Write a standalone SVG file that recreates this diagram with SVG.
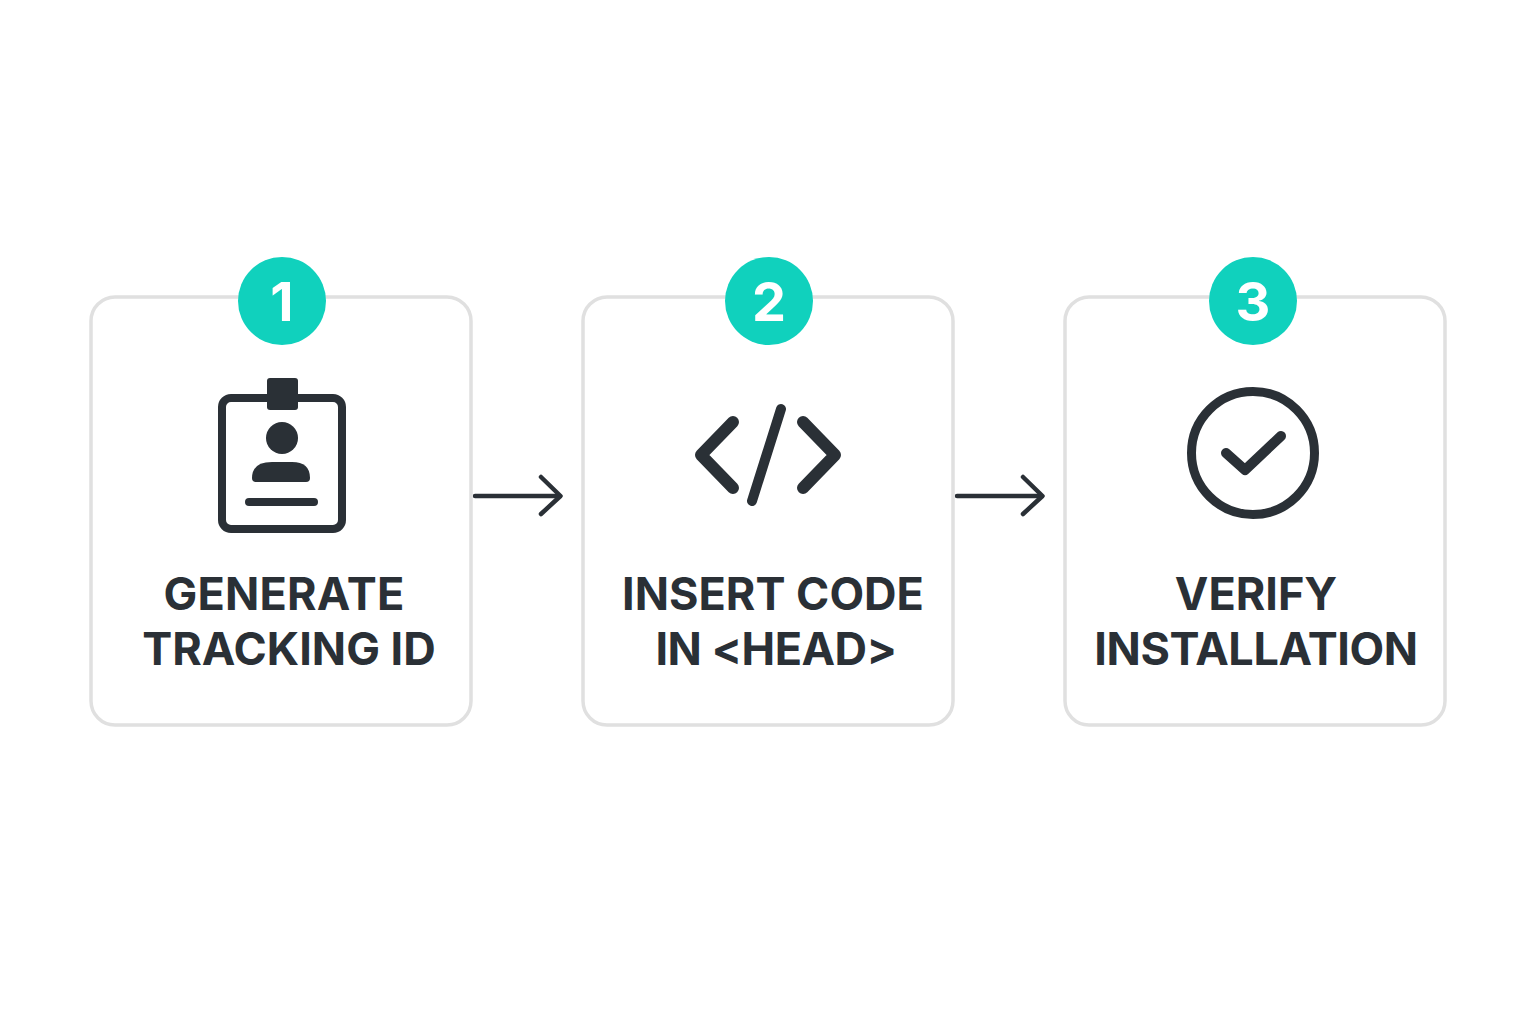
<svg xmlns="http://www.w3.org/2000/svg" width="1536" height="1024" viewBox="0 0 1536 1024">
<style>
.card{fill:#fff;stroke:#e0e0e0;stroke-width:3.5}
.badge{fill:#10d1bd}
.num{font:700 54px Inter,"Liberation Sans",sans-serif;fill:#fff;text-anchor:middle}
.lbl{font:700 45px Inter,"Liberation Sans",sans-serif;fill:#2a3036;text-anchor:middle}
.ico{fill:none;stroke:#2a3036;stroke-linecap:round;stroke-linejoin:round}
.fill{fill:#2a3036}
.conn{fill:none;stroke:#2a3036;stroke-width:4.5;stroke-linecap:round;stroke-linejoin:round}
</style>
<rect width="1536" height="1024" fill="#fff"/>
<g id="connectors">
<path class="conn" d="M475 496H558"/>
<path class="conn" d="M541 477L560.500 496L541 514"/>
<path class="conn" d="M957 496H1040"/>
<path class="conn" d="M1023 477L1042.500 496L1023 514"/>
</g>
<g id="node1">
<rect class="card" x="91" y="297" width="380" height="428" rx="24"/>
<circle class="badge" cx="282" cy="301" r="44"/>
<text class="num" x="282" y="321">1</text>
<rect class="ico" x="222" y="398" width="120" height="131" rx="9" stroke-width="8"/>
<rect class="fill" x="267" y="378" width="31" height="32" rx="3"/>
<circle class="fill" cx="282" cy="438" r="16"/>
<path class="fill" d="M252 478Q252 462 272 462H292Q310 462 310 478Q310 482 306 482H256Q252 482 252 478Z"/>
<path class="ico" stroke-width="8" d="M249 502H314"/>
<text class="lbl" x="284" y="610" style="letter-spacing:.2px">GENERATE</text>
<text class="lbl" x="289" y="665">TRACKING ID</text>
</g>
<g id="node2">
<rect class="card" x="583" y="297" width="370" height="428" rx="24"/>
<circle class="badge" cx="769" cy="301" r="44"/>
<text class="num" x="769" y="321">2</text>
<path class="ico" stroke-width="12" d="M733 422L701 455L733 488M803 422L835 455L803 488"/>
<path class="ico" stroke-width="10" d="M781 409L752 501"/>
<text class="lbl" x="773" y="610">INSERT CODE</text>
<text class="lbl" x="776" y="665" style="letter-spacing:-.5px">IN &lt;HEAD&gt;</text>
</g>
<g id="node3">
<rect class="card" x="1065" y="297" width="380" height="428" rx="24"/>
<circle class="badge" cx="1253" cy="301" r="44"/>
<text class="num" x="1253" y="321">3</text>
<circle class="ico" cx="1253" cy="453" r="61.500" stroke-width="9"/>
<path class="ico" stroke-width="10" d="M1226 453L1245 470L1281 436"/>
<text class="lbl" x="1256" y="610">VERIFY</text>
<text class="lbl" x="1256" y="665" style="letter-spacing:-.4px">INSTALLATION</text>
</g>
</svg>
